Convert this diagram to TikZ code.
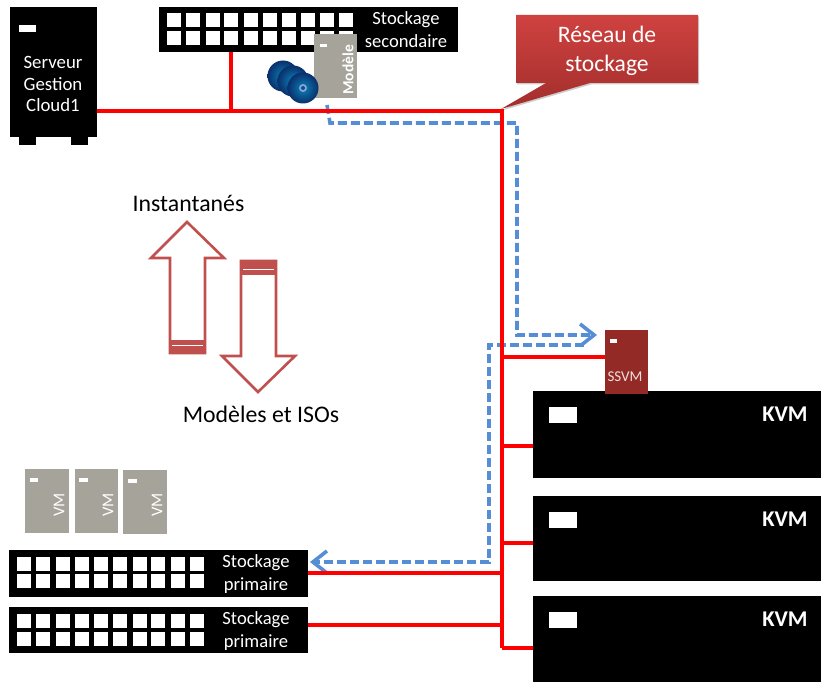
\documentclass[tikz,border=0pt]{standalone}
\usepackage{fontspec}
\setmainfont{Carlito}
\usetikzlibrary{arrows.meta,calc}
\definecolor{vmgray}{HTML}{A6A39B}
\definecolor{ssvmred}{HTML}{942A26}
\definecolor{arrowred}{HTML}{C0504D}
\definecolor{dashblue}{HTML}{558ED5}
\definecolor{discblue}{HTML}{0F4C9C}
\definecolor{discdark}{HTML}{0A2F6B}
\definecolor{calltop}{HTML}{CF4240}
\definecolor{callbot}{HTML}{A22E2C}
\tikzset{
  x=1pt,y=-1pt,
  every node/.style={inner sep=0pt,outer sep=0pt},
  blackbox/.style={fill=black},
  vmbox/.style={fill=vmgray},
  ssvmbox/.style={fill=ssvmred},
  slot/.style={fill=white},
  port/.style={fill=white,minimum width=14pt,minimum height=14pt},
  redline/.style={draw=red,line width=3.4pt},
  blueline/.style={draw=dashblue,line width=3.6pt,dash pattern=on 9pt off 4pt},
  bluehead/.style={-{Straight Barb[length=14pt,width=22pt,line width=3.6pt]}},
  bigarrow/.style={draw=arrowred,line width=2.6pt,fill=white,miter limit=10},
  whitetext/.style={text=white,align=center},
  darktext/.style={text=black,font=\fontsize{23.8}{26}\selectfont},
  kvmtext/.style={text=white,font=\bfseries\fontsize{22.5}{26}\selectfont},
  vmtext/.style={text=white,font=\fontsize{16.5}{18}\selectfont,rotate=90},
  stortext/.style={whitetext,font=\fontsize{18.6}{23}\selectfont},
  disc/.style={circle,minimum size=31pt,inner color=discblue!70!cyan,outer color=discdark},
}
\newcommand{\Bx}[7][]{%
  \pgfmathsetmacro{\bw}{#5-#3}\pgfmathsetmacro{\bh}{#6-#4}%
  \pgfmathsetmacro{\bcx}{(#3+#5)/2}\pgfmathsetmacro{\bcy}{(#4+#6)/2}%
  \node[#2,minimum width=\bw pt,minimum height=\bh pt,#1] (#7) at (\bcx,\bcy) {};}
\newcommand{\PortRows}[3]{%
  \foreach \px in {#1}{%
    \node[port,anchor=north west] at (\px,#2) {};
    \node[port,anchor=north west] at (\px,#3) {};}}
\begin{document}
\begin{tikzpicture}
\useasboundingbox (0,0) rectangle (821,682);
% server
\Bx{blackbox}{19}{130}{36}{145}{foota}
\Bx{blackbox}{71}{130}{88}{145}{footb}
\Bx{blackbox}{10}{7}{97}{137}{srv}
\Bx{slot}{19}{25}{36}{32}{srvslot}
\node[whitetext,font=\fontsize{18.8}{21.5}\selectfont] (srvt) at (53,84) {Serveur\\Gestion\\Cloud1};
% secondary storage
\Bx{blackbox}{159}{7}{458}{52}{sec}
\PortRows{167,186,206,224,244,263,282,301,320,339}{13}{31}
\node[stortext] (sect) at (406,30) {Stockage\\secondaire};
% template
\Bx{vmbox}{314}{34}{357}{98}{tpl}
\Bx{slot}{320}{44}{327}{47}{tplslot}
\node[text=white,font=\bfseries\fontsize{15.5}{16}\selectfont,rotate=90] (tplt) at (348,70) {Modèle};
% discs
\node[disc] (d1) at (283,76) {};
\node[disc] (d2) at (293,81) {};
\node[disc] (d3) at (303,88) {};
\fill[white!50!discblue] (d3) circle (4pt);
\fill[discblue] (d3) circle (2pt);
% KVM hosts
\Bx{blackbox}{533}{391}{821}{478}{kvma}
\Bx{blackbox}{533}{496}{821}{581}{kvmb}
\Bx{blackbox}{533}{596}{821}{682}{kvmc}
\Bx{slot}{549}{407}{577}{423}{sa}
\Bx{slot}{549}{512}{577}{528}{sb}
\Bx{slot}{549}{612}{577}{628}{sc}
\node[kvmtext] (ka) at (785,414) {KVM};
\node[kvmtext] (kb) at (785,519) {KVM};
\node[kvmtext] (kc) at (785,619) {KVM};
% SSVM
\Bx{ssvmbox}{605}{330}{648}{394}{ssvm}
\Bx{slot}{610}{339}{617}{343}{ssvmslot}
\node[text=white!85!ssvmred,font=\fontsize{15}{16}\selectfont] (ssvmt) at (625,377) {SSVM};
% VMs
\Bx{vmbox}{25}{469}{69}{533}{vma}
\Bx{vmbox}{75}{469}{118}{533}{vmb}
\Bx{vmbox}{123}{470}{167}{534}{vmc}
\Bx{slot}{30}{478}{38}{482}{vmas}
\Bx{slot}{79}{478}{88}{482}{vmbs}
\Bx{slot}{128}{479}{137}{483}{vmcs}
\node[vmtext] (vmat) at (59,505) {VM};
\node[vmtext] (vmbt) at (108,505) {VM};
\node[vmtext] (vmct) at (157,505) {VM};
% primary storage
\Bx{blackbox}{9}{550}{308}{597}{pa}
\Bx{blackbox}{9}{607}{308}{653}{pb}
\PortRows{17,36,56,75,94,113,133,151,171,190}{557}{574}
\PortRows{17,36,56,75,94,113,133,151,171,190}{614}{632}
\node[stortext] (pat) at (256,574) {Stockage\\primaire};
\node[stortext] (pbt) at (256,631) {Stockage\\primaire};
% dashed paths
\coordinate (ba) at (327,105);
\coordinate (bb) at (330,123);
\coordinate (bc) at (517,123);
\coordinate (bd) at (517,335);
\coordinate (be) at (597,335);
\coordinate (bf) at (584,345);
\coordinate (bg) at (489,345);
\coordinate (bh) at (489,562);
\coordinate (bi) at (310,562);
\draw[blueline,bluehead] (ba) -- (bb) -- (bc) -- (bd) -- (be);
\draw[blueline,bluehead] (bf) -- (bg) -- (bh) -- (bi);
% storage network
\coordinate (top) at (502,111);
\coordinate (bot) at (502,648);
\coordinate (jsec) at (231,111);
\coordinate (jssvm) at (502,357);
\coordinate (jka) at (502,446);
\coordinate (jkb) at (502,543);
\coordinate (jpa) at (502,573);
\coordinate (jpb) at (502,625);
\draw[redline,line join=miter] (srv.east|-top) -- (top) -- (bot);
\draw[redline] (sec.south-|jsec) -- (jsec);
\draw[redline] (jssvm) -- (ssvm.west|-jssvm);
\draw[redline] (jka) -- (kvma.west|-jka);
\draw[redline] (jkb) -- (kvmb.west|-jkb);
\draw[redline] (bot) -- (kvmc.west|-bot);
\draw[redline] (pa.east|-jpa) -- (jpa);
\draw[redline] (pb.east|-jpb) -- (jpb);
% callout
\fill[black,opacity=.2] (517,16.5) -- (699,16.5) -- (699,84.5) -- (591,84.5) -- (502,110.5) -- (547,84.5) -- (517,84.5) -- cycle;
\shade[top color=calltop,bottom color=callbot] (516,15) -- (698,15) -- (698,83) -- (590,83) -- (501,109) -- (546,83) -- (516,83) -- cycle;
\node[whitetext,font=\fontsize{23.6}{29}\selectfont] (net) at (607,51) {Réseau de\\stockage};
% big arrows
\draw[bigarrow] (170,353) -- (170,258) -- (151,258) -- (187,222) -- (224,258) -- (205,258) -- (205,353) -- cycle;
\fill[arrowred] (169,340) rectangle (206,354);
\draw[white,line width=1pt] (172,345) -- (203,345);
\draw[bigarrow] (241,261) -- (241,356) -- (222,356) -- (258,392) -- (295,356) -- (276,356) -- (276,261) -- cycle;
\fill[arrowred] (240,261) rectangle (277,275);
\draw[white,line width=1pt] (243,269) -- (274,269);
\node[darktext] (inst) at (188.5,203) {Instantanés};
\node[darktext] (mod) at (261,414) {Modèles et ISOs};
\end{tikzpicture}
\end{document}
